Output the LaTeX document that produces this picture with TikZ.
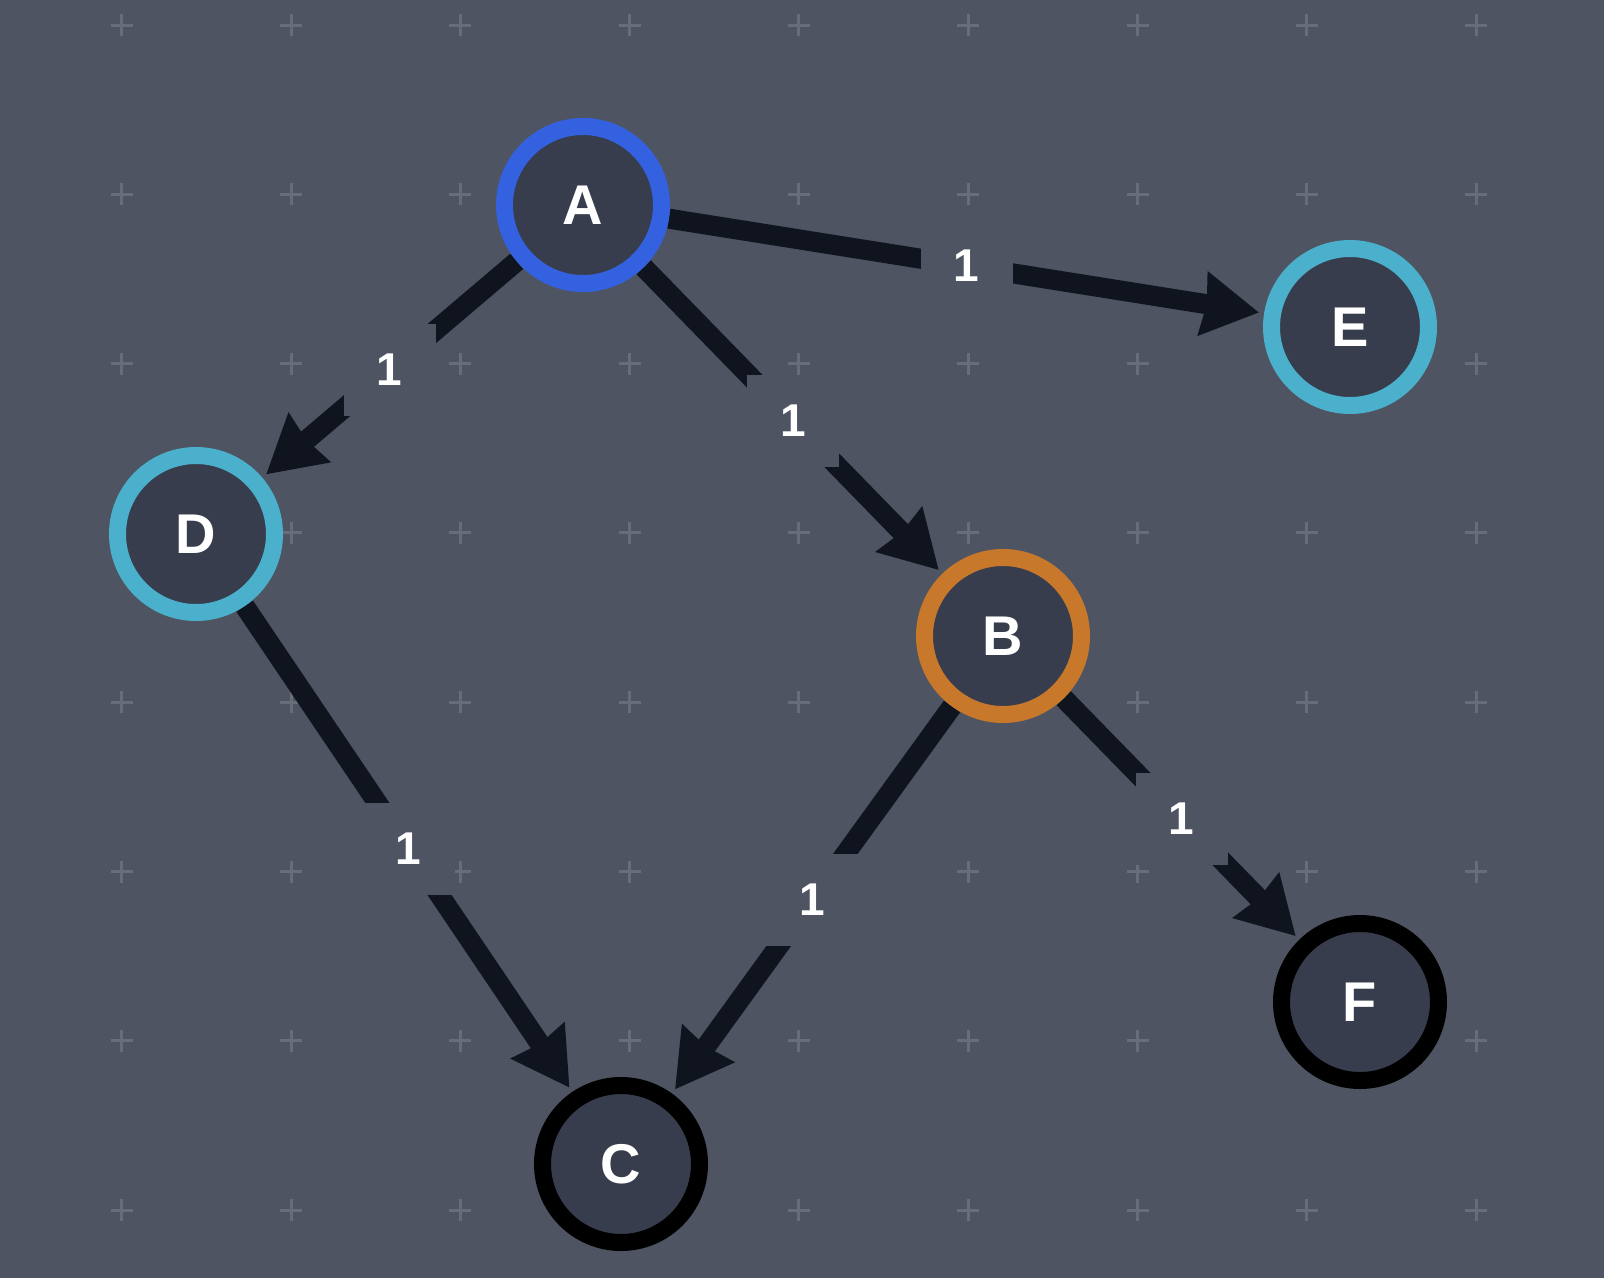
\documentclass[tikz,border=0pt]{standalone}
\usepackage{fontspec}
\setmainfont{Liberation Sans}
\usetikzlibrary{arrows.meta,calc}
\definecolor{bgc}{RGB}{78,84,98}
\definecolor{nodefill}{RGB}{55,61,76}
\definecolor{edgec}{RGB}{16,20,30}
\definecolor{ablue}{RGB}{52,97,224}
\definecolor{acyan}{RGB}{74,176,204}
\definecolor{aorange}{RGB}{200,120,42}
\definecolor{ablack}{RGB}{0,0,0}
\pgfdeclarelayer{back}
\pgfdeclarelayer{edges}
\pgfsetlayers{back,edges,main}
\begin{document}
\begin{tikzpicture}[x=1pt,y=-1pt,
  vtx/.style={circle, fill=nodefill, line width=17pt, minimum size=157pt, inner sep=0pt,
    text=white, font=\bfseries\fontsize{56}{56}\selectfont},
  edge/.style={draw=edgec, line width=20pt, -{Stealth[length=56pt,width=62pt,inset=3pt]}, shorten >=5pt},
  lbl/.style={fill=bgc, minimum size=92pt, inner sep=0pt, text=white,
    font=\bfseries\fontsize{46}{46}\selectfont},
  plusmark/.style={draw=white, draw opacity=0.15, line width=3pt}]
\begin{pgfonlayer}{back}
\fill[bgc] (0,0) rectangle (1604,1278);
\foreach \i in {0,...,8}{
  \foreach \j in {0,...,7}{
    \path[plusmark] ({121.7+169.3*\i-11},{25+169.3*\j}) -- ++(22,0)
      ({121.7+169.3*\i},{25+169.3*\j-11}) -- ++(0,22);
  }
}
\end{pgfonlayer}
\useasboundingbox (0,0) rectangle (1604,1278);

\node[vtx, draw=ablue]   (A) at (583,205)  {A};
\node[vtx, draw=acyan]   (E) at (1350,327) {E};
\node[vtx, draw=acyan]   (D) at (196,534)  {D};
\node[vtx, draw=aorange] (B) at (1003,636) {B};
\node[vtx, draw=ablack]  (C) at (621,1164) {C};
\node[vtx, draw=ablack]  (F) at (1360,1002) {F};

\begin{pgfonlayer}{edges}
\draw[edge] (A) -- node[lbl] {1} (E);
\draw[edge] (A) -- node[lbl] {1} (D);
\draw[edge] (A) -- node[lbl] {1} (B);
\draw[edge] (D) -- node[lbl] {1} (C);
\draw[edge] (B) -- node[lbl] {1} (C);
\draw[edge] (B) -- node[lbl] {1} (F);
\end{pgfonlayer}
\end{tikzpicture}
\end{document}
